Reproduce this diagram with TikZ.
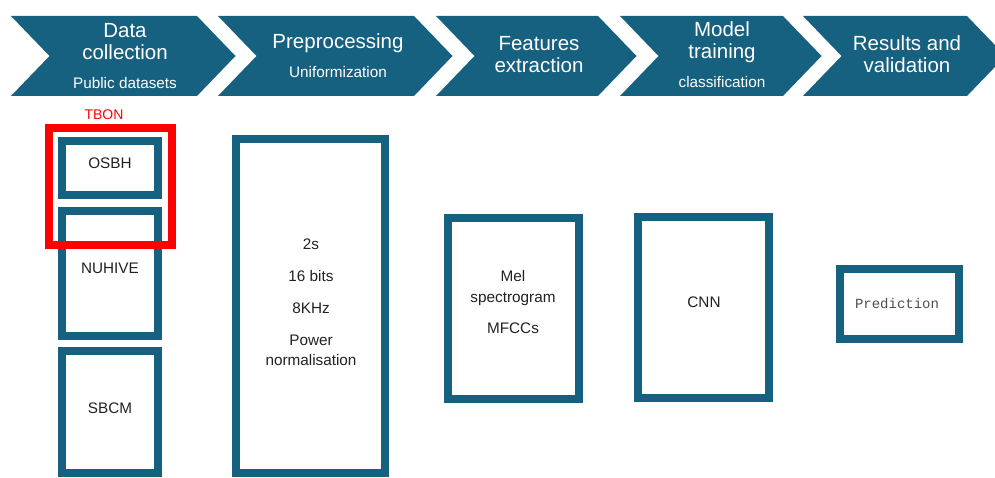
\documentclass[tikz,border=0pt]{standalone}
\usepackage{fontspec}
\setmainfont{Liberation Sans}
\setmonofont{Liberation Mono}
\definecolor{teal}{RGB}{22,96,128}
\definecolor{tbonred}{RGB}{255,0,0}
\definecolor{boxtext}{RGB}{34,34,34}
\begin{document}
\begin{tikzpicture}[x=1pt,y=-1pt,
  chev/.style={fill=teal},
  ttl/.style={text=white,align=center,font=\fontsize{20.5}{22}\selectfont,inner sep=0pt},
  sub/.style={text=white,align=center,font=\fontsize{15.3}{17}\selectfont,inner sep=0pt},
  bluebox/.style={draw=teal,line width=8pt,fill=white,inner sep=0pt},
  txt/.style={text=boxtext,align=center,font=\fontsize{15.3}{20}\selectfont,inner sep=0pt}]
\useasboundingbox (0,0) rectangle (995,478);
% chevrons
\fill[chev] (11,16) -- (197,16) -- (235.5,56) -- (197,96) -- (11,96) -- (49.5,56) -- cycle;
\fill[chev] (218,16) -- (414,16) -- (452.5,56) -- (414,96) -- (218,96) -- (256.5,56) -- cycle;
\fill[chev] (436,16) -- (598,16) -- (636.5,56) -- (598,96) -- (436,96) -- (474.5,56) -- cycle;
\fill[chev] (620,16) -- (783,16) -- (821.5,56) -- (783,96) -- (620,96) -- (658.5,56) -- cycle;
\fill[chev] (803,16) -- (967,16) -- (1005.5,56) -- (967,96) -- (803,96) -- (841.5,56) -- cycle;
\node[ttl] (t1) at (125,42) {Data\\collection};
\node[sub] (s1) at (125,83) {Public datasets};
\node[ttl] (t2) at (338,43) {Preprocessing};
\node[sub] (s2) at (338,72) {Uniformization};
\node[ttl] (t3) at (539,54.5) {Features\\extraction};
\node[ttl] (t4) at (722,42) {Model\\training};
\node[sub] (s4) at (722,82) {classification};
\node[ttl] (t5) at (907,54.5) {Results and\\validation};
% boxes
\node[bluebox,minimum width=96pt,minimum height=54pt] (osbh) at (110,168) {};
\node[bluebox,minimum width=96pt,minimum height=125pt] (nuhive) at (110,273.5) {};
\node[bluebox,minimum width=96pt,minimum height=122pt] (sbcm) at (110,412) {};
\node[draw=tbonred,line width=8pt,minimum width=123pt,minimum height=117pt,inner sep=0pt] (tbonbox) at (110.5,186.5) {};
\node[text=tbonred,font=\fontsize{14}{16}\selectfont,inner sep=0pt] (tbon) at (104,115) {TBON};
\node[txt] (osbht) at (110,163) {OSBH};
\node[txt] (nuhivet) at (110,268) {NUHIVE};
\node[txt] (sbcmt) at (110,408) {SBCM};
\node[bluebox,minimum width=149pt,minimum height=334pt] (prep) at (310.5,306) {};
\node[txt] (prept) at (311,302) {2s\\[12pt]16 bits\\[12pt]8KHz\\[12pt]Power\\normalisation};
\node[bluebox,minimum width=131pt,minimum height=181pt] (mel) at (513.5,308.5) {};
\node[txt,font=\fontsize{15.3}{21}\selectfont] (melt) at (513,302) {Mel\\spectrogram\\[10pt]MFCCs};
\node[bluebox,minimum width=131pt,minimum height=181pt] (cnn) at (703.5,307.5) {};
\node[txt] (cnnt) at (704,302) {CNN};
\node[bluebox,minimum width=119pt,minimum height=70pt] (pred) at (899.5,304) {};
\node[text=boxtext!80,font=\ttfamily\fontsize{14}{16}\selectfont,inner sep=0pt] (predt) at (897,304) {Prediction};
\end{tikzpicture}
\end{document}
